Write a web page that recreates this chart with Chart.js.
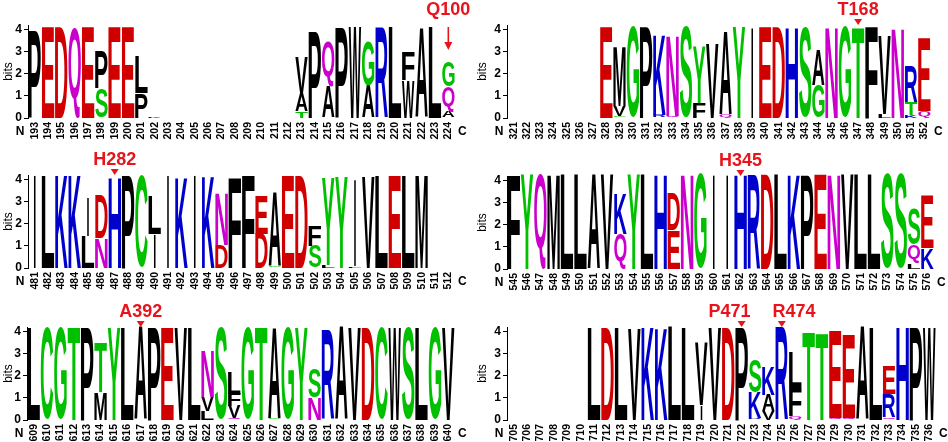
<!DOCTYPE html>
<html><head><meta charset="utf-8">
<script src="https://cdn.jsdelivr.net/npm/chart.js@4.4.0/dist/chart.umd.min.js"></script>
<style>
html,body{margin:0;padding:0;background:#fff;width:948px;height:442px;overflow:hidden;position:relative}
canvas{position:absolute;display:block}
</style></head><body>
<canvas id="c1"></canvas><canvas id="c2"></canvas><canvas id="c3"></canvas>
<canvas id="c4"></canvas><canvas id="c5"></canvas><canvas id="c6"></canvas>
<script>
// ---------- DATA ----------
const p1Labels = ["193","194","195","196","197","198","199","200","201","202","203","204","205","206","207","208","209","210","211","212","213","214","215","216","217","218","219","220","221","222","223","224"];
const p1Letters = ["P","E","D","Q","E","SP","E","E","PL","K","","","","","","","","","","","TAV","P","AQ","P","W","AG","R","L","WF","A","L","AQG"];
const p1Heights = [[4.0],[4.1],[4.1],[4.1],[4.1],[1.35,1.7],[4.1],[4.1],[1.15,1.65],[0.06],[],[],[],[],[],[],[],[],[],[],[0.3,0.8,1.7],[3.95],[1.4,2.0],[4.1],[4.1],[1.45,2.0],[4.1],[4.1],[1.7,1.3],[4.05],[4.1],[0.3,1.15,1.1]];
const p1Marks = [{text:"Q100", at:"224", arrow:true}];

const p2Labels = ["321","322","323","324","325","326","327","328","329","330","331","332","333","334","335","336","337","338","339","340","341","342","343","344","345","346","347","348","349","350","351","352"];
const p2Letters = ["","","","","","","","E","GVM","G","P","RK","QN","S","FY","V","QA","Y","I","E","D","H","S","GA","N","G","T","F","LV","N","KTR","QE"];
const p2Heights = [[],[],[],[],[],[],[],[4.15],[0.1,0.45,2.65],[4.15],[4.15],[0.15,3.6],[0.1,3.6],[4.15],[0.7,2.55],[3.35],[0.15,3.75],[4.1],[4.1],[4.15],[4.15],[4.1],[4.05],[1.5,1.55],[4.1],[4.1],[4.1],[4.15],[0.2,3.55],[4.05],[0.15,0.55,1.6],[0.3,3.3]];
const p2Marks = [{text:"T168", at:"347"}];

const p3Labels = ["481","482","483","484","485","486","487","488","489","490","491","492","493","494","495","496","497","498","499","500","501","502","503","504","505","506","507","508","509","510","511","512"];
const p3Letters = ["I","L","K","K","LI","ND","H","P","C","IL","I","K","I","K","DN","F","F","DE","GA","E","D","SF","LY","Y","LI","V","L","E","L","M","",""];
const p3Heights = [[4.2],[4.2],[4.2],[4.2],[1.45,1.75],[1.35,1.95],[4.1],[4.2],[4.2],[1.55,1.75],[4.2],[4.1],[4.2],[4.15],[1.05,2.3],[4.1],[4.2],[1.55,1.75],[0.08,3.3],[4.2],[4.2],[1.0,0.9],[0.12,3.95],[4.1],[0.1,3.9],[4.1],[4.2],[4.2],[4.2],[4.2],[],[]];
const p3Marks = [{text:"H282", at:"487"}];

const p4Labels = ["545","546","547","548","549","550","551","552","553","554","555","556","557","558","559","560","561","562","563","564","565","566","567","568","569","570","571","572","573","574","575","576"];
const p4Letters = ["F","Y","Q","M","L","L","A","V","QK","Y","L","H","ED","N","G","I","I","H","R","D","L","K","P","E","N","V","L","L","S","S","LQS","KE"];
const p4Heights = [[4.3],[4.3],[4.3],[4.3],[4.3],[4.3],[4.3],[4.3],[1.6,1.8],[4.3],[4.3],[4.3],[1.75,1.65],[4.3],[4.3],[4.3],[4.3],[4.3],[4.3],[4.3],[4.3],[4.3],[4.3],[4.3],[4.3],[4.3],[4.3],[4.3],[4.3],[4.3],[0.25,0.85,1.6],[0.95,2.35]];
const p4Marks = [{text:"H345", at:"562"}];

const p5Labels = ["609","610","611","612","613","614","615","616","617","618","619","620","621","622","623","624","625","626","627","628","629","630","631","632","633","634","635","636","637","638","639","640"];
const p5Letters = ["L","C","G","T","P","MT","Y","L","A","P","E","V","L","LVN","S","QVFL","G","T","GA","G","Y","NS","R","A","V","D","C","W","S","L","G","V"];
const p5Heights = [[4.2],[4.2],[4.2],[4.2],[4.2],[1.25,2.2],[4.2],[4.2],[4.2],[4.2],[4.2],[4.2],[4.2],[0.4,0.62,2.1],[4.2],[0.07,0.55,0.55,1.0],[4.2],[4.2],[0.08,4.1],[4.2],[4.2],[1.0,1.3],[4.05],[4.2],[4.2],[4.2],[4.2],[4.2],[4.2],[4.2],[4.2],[4.2]];
const p5Marks = [{text:"A392", at:"617"}];

const p6Labels = ["705","706","707","708","709","710","711","712","713","714","715","716","717","718","719","720","721","722","723","724","725","726","727","728","729","730","731","732","733","734","735","736"];
const p6Letters = ["","","","","","","L","D","L","V","K","K","L","L","IV","V","D","P","RKS","VAK","R","QFL","T","T","QE","QE","A","L","QRE","H","P","W"];
const p6Heights = [[],[],[],[],[],[],[4.2],[4.2],[4.2],[4.1],[4.2],[4.15],[4.25],[4.2],[0.67,2.85],[4.2],[4.2],[4.2],[0.1,1.15,1.45],[0.4,0.75,1.25],[4.2],[0.2,1.25,1.6],[4.0],[3.95],[0.08,3.95],[0.08,3.75],[4.2],[4.2],[0.12,1.05,1.25],[4.2],[4.2],[4.2]];
const p6Marks = [{text:"P471", at:"722"},{text:"R474", at:"725"}];

// ---------- STYLE / LAYOUT ----------
const FONT = '"Liberation Sans", Arial, Helvetica, sans-serif';
const RED_MARK = '#e8131b';
const GREEN = '#00c000', BLUE = '#0000cc', PURPLE = '#cc00cc', RED = '#d00000', BLACK = '#000000';
const colorOf = {A:BLACK,V:BLACK,L:BLACK,I:BLACK,P:BLACK,W:BLACK,F:BLACK,M:BLACK,
  G:GREEN,S:GREEN,T:GREEN,Y:GREEN,C:GREEN,N:PURPLE,Q:PURPLE,K:BLUE,R:BLUE,H:BLUE,D:RED,E:RED};
const TOP = 25, BOTTOM = 118;

const glyphCache = {};
function glyphBox(ch){
  if (glyphCache[ch]) return glyphCache[ch];
  const c = document.createElement('canvas').getContext('2d');
  c.font = 'bold 200px ' + FONT;
  const m = c.measureText(ch);
  return glyphCache[ch] = {l:m.actualBoundingBoxLeft, r:m.actualBoundingBoxRight, a:m.actualBoundingBoxAscent, d:m.actualBoundingBoxDescent};
}
function drawGlyph(ctx, ch, x, y, w, h, color){
  const g = glyphBox(ch);
  const gw = g.l + g.r, gh = g.a + g.d;
  let dw = w, dx = x;
  if (ch === 'I') { dw = Math.max(1.3, w * 0.13); dx = x + (w - dw) / 2; }
  ctx.save();
  ctx.translate(dx, y);
  ctx.scale(dw / gw, h / gh);
  ctx.font = 'bold 200px ' + FONT;
  ctx.fillStyle = color;
  ctx.textAlign = 'left';
  ctx.textBaseline = 'alphabetic';
  ctx.fillText(ch, g.l, g.a);
  ctx.restore();
}

const logoPlugin = {
  id: 'logo',
  afterDatasetsDraw(chart){
    const ctx = chart.ctx;
    chart.data.datasets.forEach((ds, di) => {
      const meta = chart.getDatasetMeta(di);
      meta.data.forEach((bar, i) => {
        const ch = ds.letters[i];
        if (!ch) return;
        const top = Math.min(bar.y, bar.base), h = Math.abs(bar.base - bar.y);
        if (h < 0.4) return;
        drawGlyph(ctx, ch, bar.x - bar.width / 2, top, bar.width, h, colorOf[ch] || BLACK);
      });
    });
  },
  afterDraw(chart){
    const ctx = chart.ctx, ca = chart.chartArea, xs = chart.scales.x;
    const labels = chart.data.labels;
    ctx.save();
    ctx.fillStyle = '#000';
    ctx.font = 'bold 12px ' + FONT;
    ctx.textAlign = 'center';
    ctx.textBaseline = 'middle';
    ctx.fillText('N', ca.left - 8, ca.bottom + 14);
    ctx.fillText('C', xs.getPixelForValue(labels.length - 1) + 14, ca.bottom + 14);
    const marks = chart.options.plugins.logoMarks.marks;
    ctx.font = 'bold 18px ' + FONT;
    const items = marks.map(m => {
      const px = xs.getPixelForValue(labels.indexOf(m.at));
      return {m, px, cx: px, w: ctx.measureText(m.text).width};
    });
    for (let i = 1; i < items.length; i++) {
      const a = items[i-1], b = items[i];
      const need = (a.w + b.w) / 2 + 22, d = b.cx - a.cx;
      if (d < need) { const s = (need - d) / 2; a.cx -= s; b.cx += s; }
    }
    ctx.fillStyle = RED_MARK; ctx.strokeStyle = RED_MARK;
    items.forEach(it => {
      ctx.fillText(it.m.text, it.cx, ca.top - 15);
      if (it.m.arrow) {
        ctx.lineWidth = 1.6;
        ctx.beginPath(); ctx.moveTo(it.px, ca.top + 2); ctx.lineTo(it.px, ca.top + 19); ctx.stroke();
        ctx.beginPath(); ctx.moveTo(it.px - 4, ca.top + 17); ctx.lineTo(it.px + 4, ca.top + 17); ctx.lineTo(it.px, ca.top + 25); ctx.closePath(); ctx.fill();
      } else {
        ctx.beginPath(); ctx.moveTo(it.px - 4, ca.top - 6); ctx.lineTo(it.px + 4, ca.top - 6); ctx.lineTo(it.px, ca.top); ctx.closePath(); ctx.fill();
      }
    });
    ctx.restore();
  }
};

const frames = [
  {id:'c1', x:0,   y:0,   w:474, h:142, l:28, r:455},
  {id:'c2', x:474, y:0,   w:474, h:142, l:33, r:457},
  {id:'c3', x:0,   y:150, w:474, h:142, l:28, r:455},
  {id:'c4', x:474, y:151, w:474, h:142, l:33, r:460},
  {id:'c5', x:0,   y:302, w:474, h:140, l:27, r:455},
  {id:'c6', x:474, y:302, w:474, h:140, l:33, r:462}
];

function makeChart(frame, labels, letters, heights, marks){
  const canvas = document.getElementById(frame.id);
  canvas.style.left = frame.x + 'px'; canvas.style.top = frame.y + 'px';
  canvas.style.width = frame.w + 'px'; canvas.style.height = frame.h + 'px';
  canvas.width = frame.w; canvas.height = frame.h;
  const nLayers = Math.max(...letters.map(s => s.length));
  const datasets = [];
  for (let k = 0; k < nLayers; k++) {
    datasets.push({
      data: heights.map(h => h[k] || 0),
      letters: letters.map(s => s[k] || ''),
      backgroundColor: 'rgba(0,0,0,0)', borderWidth: 0,
      barPercentage: 0.93, categoryPercentage: 1
    });
  }
  return new Chart(canvas, {
    type: 'bar',
    data: {labels, datasets},
    options: {
      responsive: false, animation: false, events: [], devicePixelRatio: 1,
      layout: {padding: {left: 0, right: frame.w - frame.r, top: TOP, bottom: 0}},
      plugins: {legend: {display: false}, tooltip: {enabled: false}, logoMarks: {marks}},
      scales: {
        x: {
          stacked: true,
          grid: {display: false, drawTicks: false},
          border: {display: false},
          ticks: {autoSkip: false, maxRotation: 90, minRotation: 90, padding: 4, color: '#000',
                  font: {family: FONT, size: 10.5, weight: 'bold'}},
          afterFit(s){ s.height = frame.h - BOTTOM; s.paddingLeft = 0; s.paddingRight = 0; }
        },
        y: {
          stacked: true, min: 0, max: 4.2,
          afterBuildTicks(s){ s.ticks = [0,1,2,3,4].map(v => ({value: v})); },
          grid: {drawOnChartArea: false, drawTicks: true, tickLength: 4, color: '#000'},
          border: {display: true, color: '#000', width: 1},
          ticks: {padding: 2, color: '#000', font: {family: FONT, size: 12, weight: 'bold'}},
          title: {display: true, text: 'bits', color: '#000', font: {family: FONT, size: 12}, padding: {top: 1, bottom: 0}},
          afterFit(s){ s.width = frame.l; s.paddingTop = 0; s.paddingBottom = 0; }
        }
      }
    },
    plugins: [logoPlugin]
  });
}

makeChart(frames[0], p1Labels, p1Letters, p1Heights, p1Marks);
makeChart(frames[1], p2Labels, p2Letters, p2Heights, p2Marks);
makeChart(frames[2], p3Labels, p3Letters, p3Heights, p3Marks);
makeChart(frames[3], p4Labels, p4Letters, p4Heights, p4Marks);
makeChart(frames[4], p5Labels, p5Letters, p5Heights, p5Marks);
makeChart(frames[5], p6Labels, p6Letters, p6Heights, p6Marks);
</script>
</body></html>
